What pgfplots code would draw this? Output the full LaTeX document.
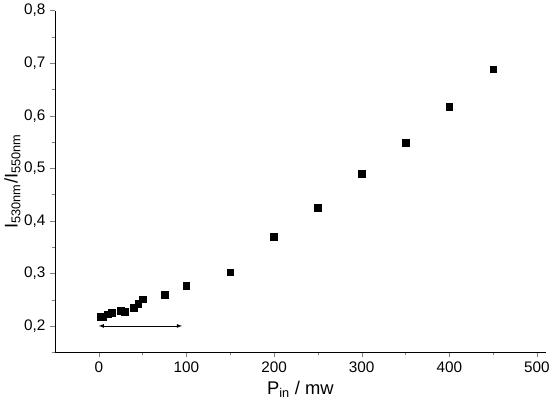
\documentclass[border=0pt]{standalone}
\usepackage{pgfplots}
\pgfplotsset{compat=1.18}
\usepackage{fontspec}
\setmainfont{Liberation Sans}
\begin{document}
\begin{tikzpicture}
\begin{axis}[width=385pt,height=268pt,scale only axis,
 xmin=-50,xmax=510,ymin=0.15,ymax=0.8,
 axis x line*=bottom, axis y line*=left, axis line style={-},
 tick align=outside, tick pos=left,
 major tick length=4pt, minor tick length=2.5pt,
 xtick={0,100,...,500}, minor xtick={50,150,...,450},
 ytick={0.2,0.3,...,0.8}, minor ytick={0.15,0.25,...,0.75},
 /pgf/number format/assume math mode=true,
 /pgf/number format/use comma, /pgf/number format/fixed, /pgf/number format/precision=1, /pgf/number format/fixed zerofill,
 xticklabel style={/pgf/number format/precision=0,/pgf/number format/fixed zerofill=false},
 tick label style={font=\large},
 xlabel={P$_{\mathrm{in}}$ / mw}, ylabel={I$_{\mathrm{530nm}}$/I$_{\mathrm{550nm}}$},
 label style={font=\Large},
 ylabel style={yshift=-4pt},
]
\addplot[only marks,mark=square*,mark size=2.6pt,black] coordinates {
(2,0.217)(5,0.218)(10,0.222)(15,0.225)(25,0.229)(30,0.227)(40,0.235)(45,0.242)(50,0.251)
(75,0.259)(100,0.277)(150,0.302)(200,0.370)(250,0.425)(300,0.489)(350,0.549)(400,0.617)(450,0.688)};
\addplot[black,<->,>=latex] coordinates {(0,0.2)(95,0.2)};
\end{axis}
\end{tikzpicture}
\end{document}
